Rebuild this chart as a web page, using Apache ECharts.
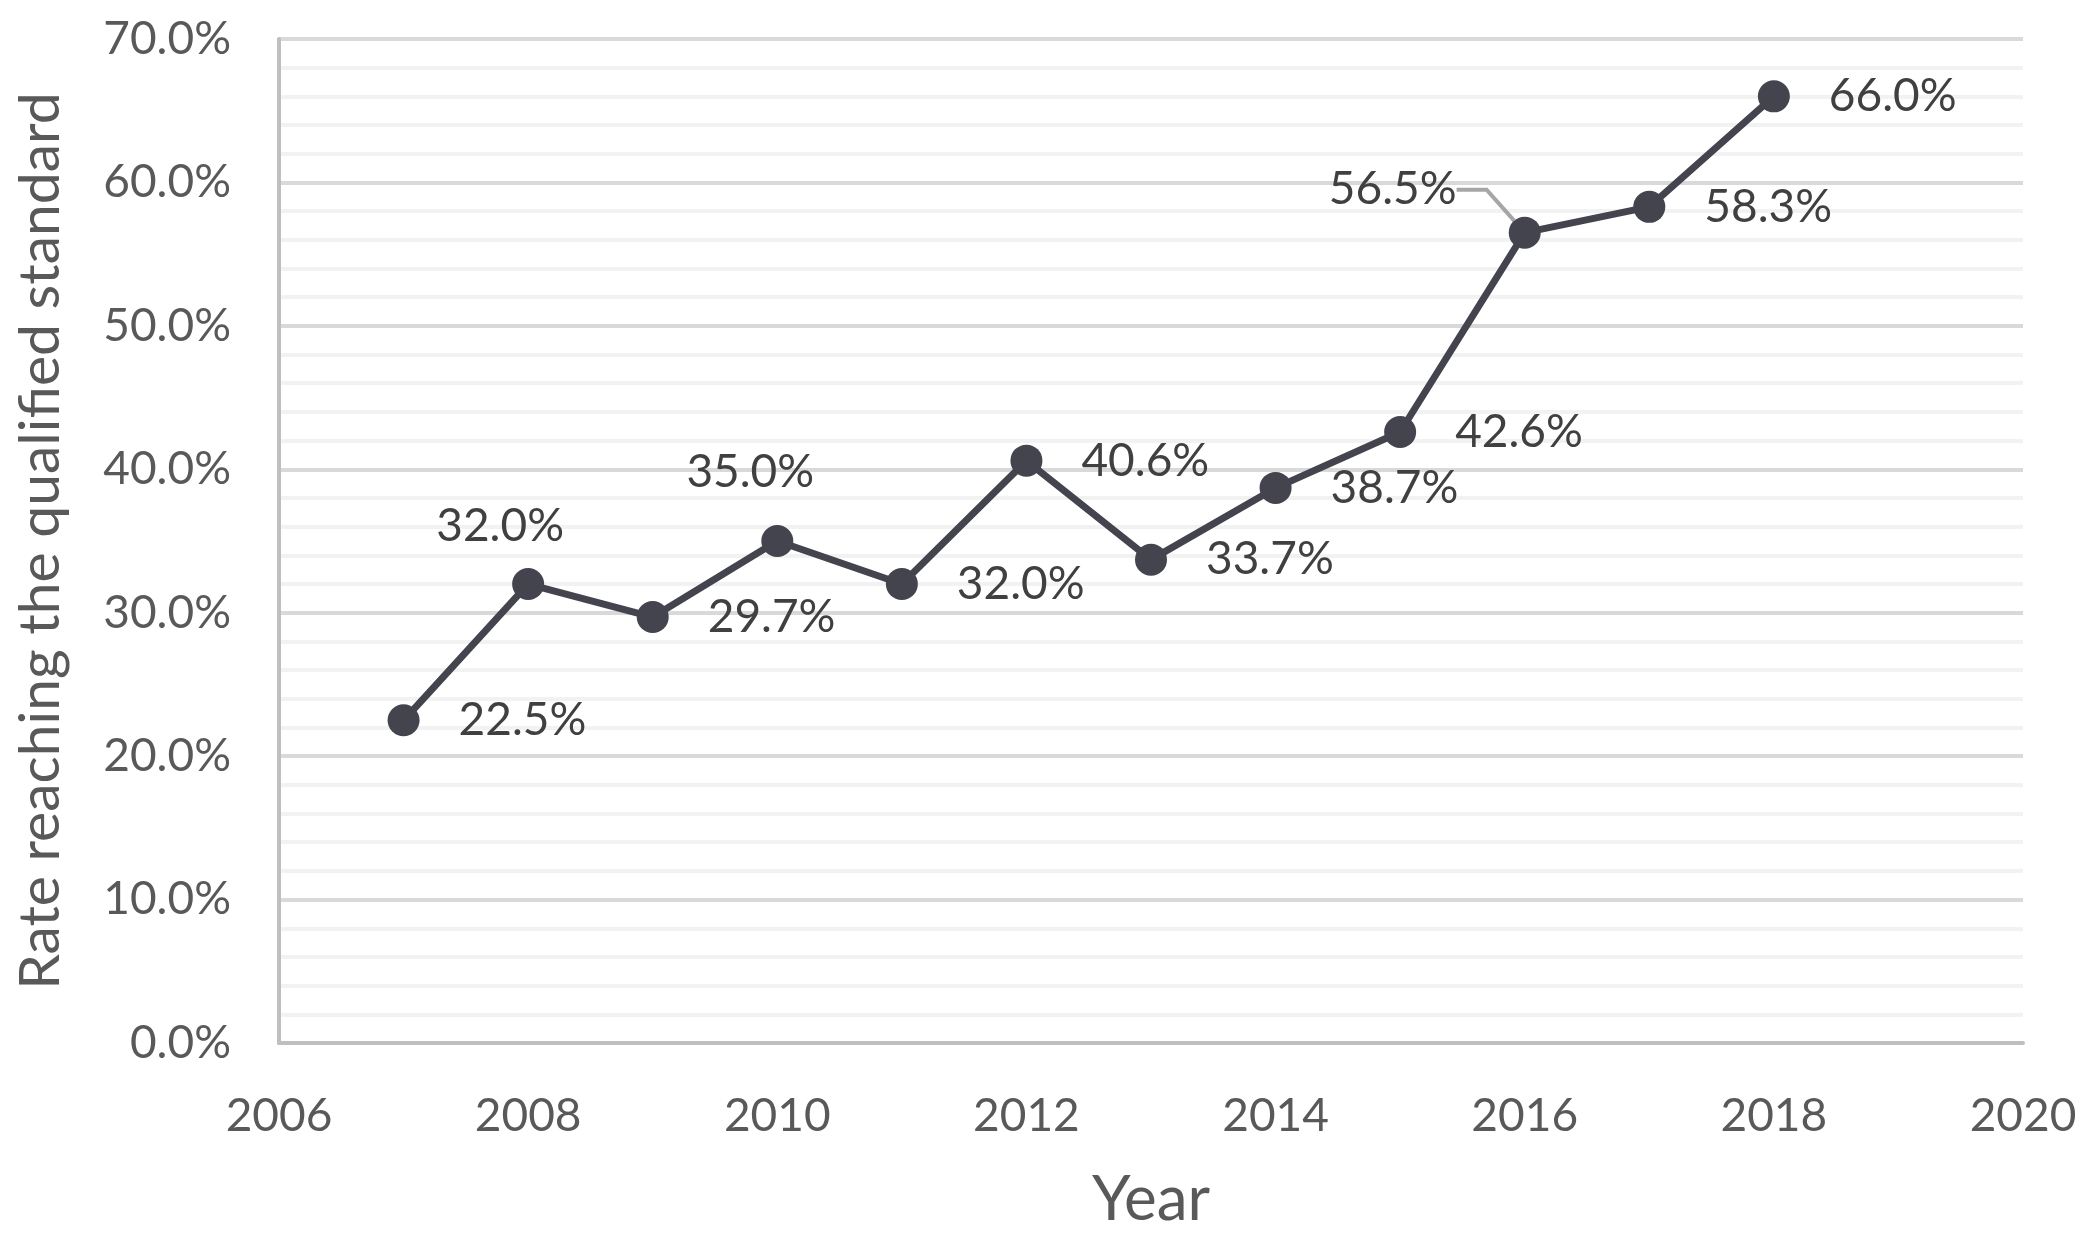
<!DOCTYPE html>
<html>
<head>
<meta charset="utf-8">
<script src="https://cdn.jsdelivr.net/npm/echarts@6/dist/echarts.min.js"></script>
<style>
html,body{margin:0;padding:0;background:#fff;}
#c{width:2091px;height:1238px;}
</style>
</head>
<body>
<div id="c"></div>
<script>
const years = [2007, 2008, 2009, 2010, 2011, 2012, 2013, 2014, 2015, 2016, 2017, 2018];
const rates = [22.5, 32.0, 29.7, 35.0, 32.0, 40.6, 33.7, 38.7, 42.6, 56.5, 58.3, 66.0];
const yTicks = [0, 10, 20, 30, 40, 50, 60, 70];
const xTicks = [2006, 2008, 2010, 2012, 2014, 2016, 2018, 2020];

// label placement overrides (others placed to the right)
const labelOverrides = {
  2008: { position: 'inside', offset: [-28, -58] },
  2010: { position: 'inside', offset: [-27, -69] },
  2016: { position: 'inside', offset: [-132, -43], leader: true }
};

const FONT = 'Lato, "Open Sans", sans-serif';
const data = years.map((y, i) => {
  const item = { value: [y, rates[i]] };
  const o = labelOverrides[y];
  if (o) {
    item.label = { position: o.position, offset: o.offset };
  }
  return item;
});

const chart = echarts.init(document.getElementById('c'), null, { renderer: 'canvas' });
chart.setOption({
  backgroundColor: '#ffffff',
  animation: false,
  grid: { left: 279, right: 68, top: 39, bottom: 195, containLabel: false },
  xAxis: {
    type: 'value', min: xTicks[0], max: xTicks[xTicks.length - 1], interval: 2,
    name: 'Year', nameLocation: 'middle', nameGap: 126,
    nameTextStyle: { fontFamily: FONT, fontSize: 62, color: '#595959' },
    axisLine: { show: true, lineStyle: { color: '#bfbfbf', width: 4 } },
    axisTick: { show: false },
    splitLine: { show: false },
    axisLabel: { fontFamily: FONT, fontSize: 46, color: '#595959', margin: 50, formatter: v => String(v) }
  },
  yAxis: {
    type: 'value', min: yTicks[0], max: yTicks[yTicks.length - 1], interval: 10,
    name: 'Rate reaching the qualified standard', nameLocation: 'middle', nameGap: 210,
    nameTextStyle: { fontFamily: FONT, fontSize: 57, color: '#595959' },
    axisLine: { show: true, lineStyle: { color: '#bfbfbf', width: 4 } },
    axisTick: { show: false },
    minorTick: { show: false, splitNumber: 5 },
    splitLine: { show: true, lineStyle: { color: '#d9d9d9', width: 4 } },
    minorSplitLine: { show: true, lineStyle: { color: '#f2f2f2', width: 4 } },
    axisLabel: { fontFamily: FONT, fontSize: 46, color: '#595959', margin: 48, formatter: v => v.toFixed(1) + '%' }
  },
  series: [{
    type: 'line',
    data: data,
    symbol: 'circle',
    symbolSize: 32,
    lineStyle: { color: '#44444f', width: 7 },
    itemStyle: { color: '#44444f' },
    label: {
      show: true, position: 'right', distance: 39,
      fontFamily: FONT, fontSize: 46, color: '#404040',
      formatter: p => p.value[1].toFixed(1) + '%'
    },
    labelLine: { show: false },
    z: 3
  }]
});

// leader line for the 2016 label, added once the labels are laid out
const opt = chart.getOption();
const s = opt.series[0];
s.data = s.data.map((d, i) => {
  const o = labelOverrides[years[i]];
  if (o && o.leader) {
    d.labelLine = { show: true, length2: 30, lineStyle: { color: '#a6a6a6', width: 4 } };
  }
  return d;
});
chart.setOption({ series: [s] });
</script>
</body>
</html>
